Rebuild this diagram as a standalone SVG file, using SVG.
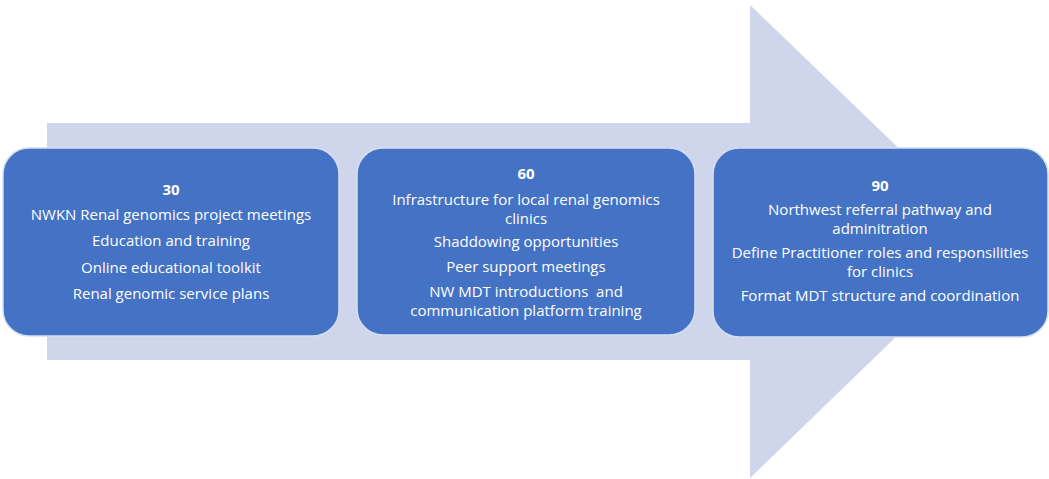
<svg xmlns="http://www.w3.org/2000/svg" width="1049" height="479" viewBox="0 0 1049 479">
<style>
.box{fill:#4472C4;stroke:#D6DEF0;stroke-width:1.5}
.t{font-family:"Open Sans","Liberation Sans",sans-serif;font-size:15px;fill:#FFFFFF;text-anchor:middle}
.h{font-weight:bold}
</style>
<rect width="1049" height="479" fill="#FFFFFF"/>
<g id="arrow">
<polygon points="47,123 750,123 750,5 995,241 750,478 750,360 47,360" fill="#CFD5EA"/>
</g>
<g id="connectors"></g>
<g id="node30">
<rect class="box" x="3" y="148" width="336" height="188" rx="26" ry="26"/>
<text class="t h" x="171" y="195">30</text>
<text class="t" x="171" y="220">NWKN Renal genomics project meetings</text>
<text class="t" x="171" y="246">Education and training</text>
<text class="t" x="171" y="273">Online educational toolkit</text>
<text class="t" x="171" y="299">Renal genomic service plans</text>
</g>
<g id="node60">
<rect class="box" x="357" y="148" width="338" height="187" rx="26" ry="26"/>
<text class="t h" x="526" y="179">60</text>
<text class="t" x="526" y="205">Infrastructure for local renal genomics</text>
<text class="t" x="526" y="224">clinics</text>
<text class="t" x="526" y="247">Shaddowing opportunities</text>
<text class="t" x="526" y="272">Peer support meetings</text>
<text class="t" x="526" y="297">NW MDT introductions&#160; and</text>
<text class="t" x="526" y="316">communication platform training</text>
</g>
<g id="node90">
<rect class="box" x="713" y="148" width="335" height="189" rx="26" ry="26"/>
<text class="t h" x="880" y="191">90</text>
<text class="t" x="880" y="215">Northwest referral pathway and</text>
<text class="t" x="880" y="234">adminitration</text>
<text class="t" x="880" y="258">Define Practitioner roles and responsilities</text>
<text class="t" x="880" y="277">for clinics</text>
<text class="t" x="880" y="301">Format MDT structure and coordination</text>
</g>
</svg>
